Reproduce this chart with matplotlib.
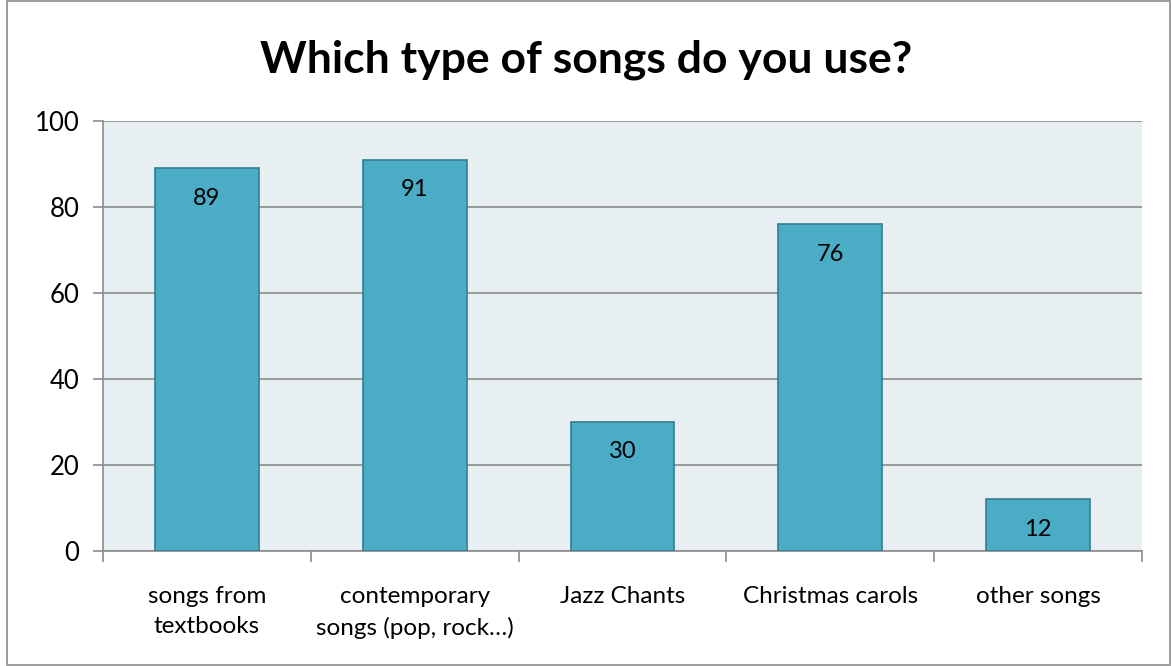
import matplotlib
matplotlib.use("Agg")
import matplotlib.pyplot as plt
from matplotlib.patches import Rectangle
import numpy as np

categories = ["songs from\ntextbooks", "contemporary\nsongs (pop, rock\u2026)", "Jazz Chants",
              "Christmas carols", "other songs"]
values = [89, 91, 30, 76, 12]
y_ticks = [0, 20, 40, 60, 80, 100]
title = "Which type of songs do you use?"

plt.rcParams['font.family'] = ['Lato', 'DejaVu Sans']

fig = plt.figure(figsize=(11.72, 6.66), dpi=100)
ax = fig.add_axes([103 / 1172, 1 - 551 / 666, 1039 / 1172, 430 / 666])

# outer chart border
fig.patches.append(Rectangle((7 / 1172, 0.002), 1 - 9 / 1172, 0.996, transform=fig.transFigure,
                             fill=False, edgecolor='#8c8c8c', linewidth=1.2))

ax.set_facecolor('#e8eff3')
x = np.arange(len(categories))
ax.bar(x, values, width=0.5, color='#4bacc6', edgecolor='#357d91', linewidth=1.2, zorder=3)

# value labels just inside the top of each bar
for xi, v in zip(x, values):
    ax.annotate(str(v), (xi, v), xytext=(0, -30), textcoords='offset pixels',
                ha='center', va='center', fontsize=17, color='black', zorder=4)

ax.set_xlim(-0.5, len(categories) - 0.5)
ax.set_ylim(0, 100)
ax.set_yticks(y_ticks)
ax.set_yticklabels([str(t) for t in y_ticks], fontsize=18.5)
ax.yaxis.grid(True, color='#8c8c8c', linewidth=1.2, zorder=1)
ax.set_axisbelow(True)

ax.set_xticks(x)
ax.set_xticklabels(categories, fontsize=17.5, linespacing=1.55)
ax.set_xticks(np.arange(len(categories) + 1) - 0.5, minor=True)
ax.tick_params(axis='x', which='major', length=0, pad=25)
ax.tick_params(axis='x', which='minor', length=8, color='#8c8c8c', width=1.2)
ax.tick_params(axis='y', length=7, color='#8c8c8c', width=1.2, pad=10)

for side in ['top', 'right']:
    ax.spines[side].set_visible(False)
for side in ['left', 'bottom']:
    ax.spines[side].set_color('#8c8c8c')
    ax.spines[side].set_linewidth(1.2)

fig.text(0.5, 1 - 60 / 666, title, ha='center', va='center', fontsize=32, fontweight='bold')

fig.savefig('out.png', dpi=100)
